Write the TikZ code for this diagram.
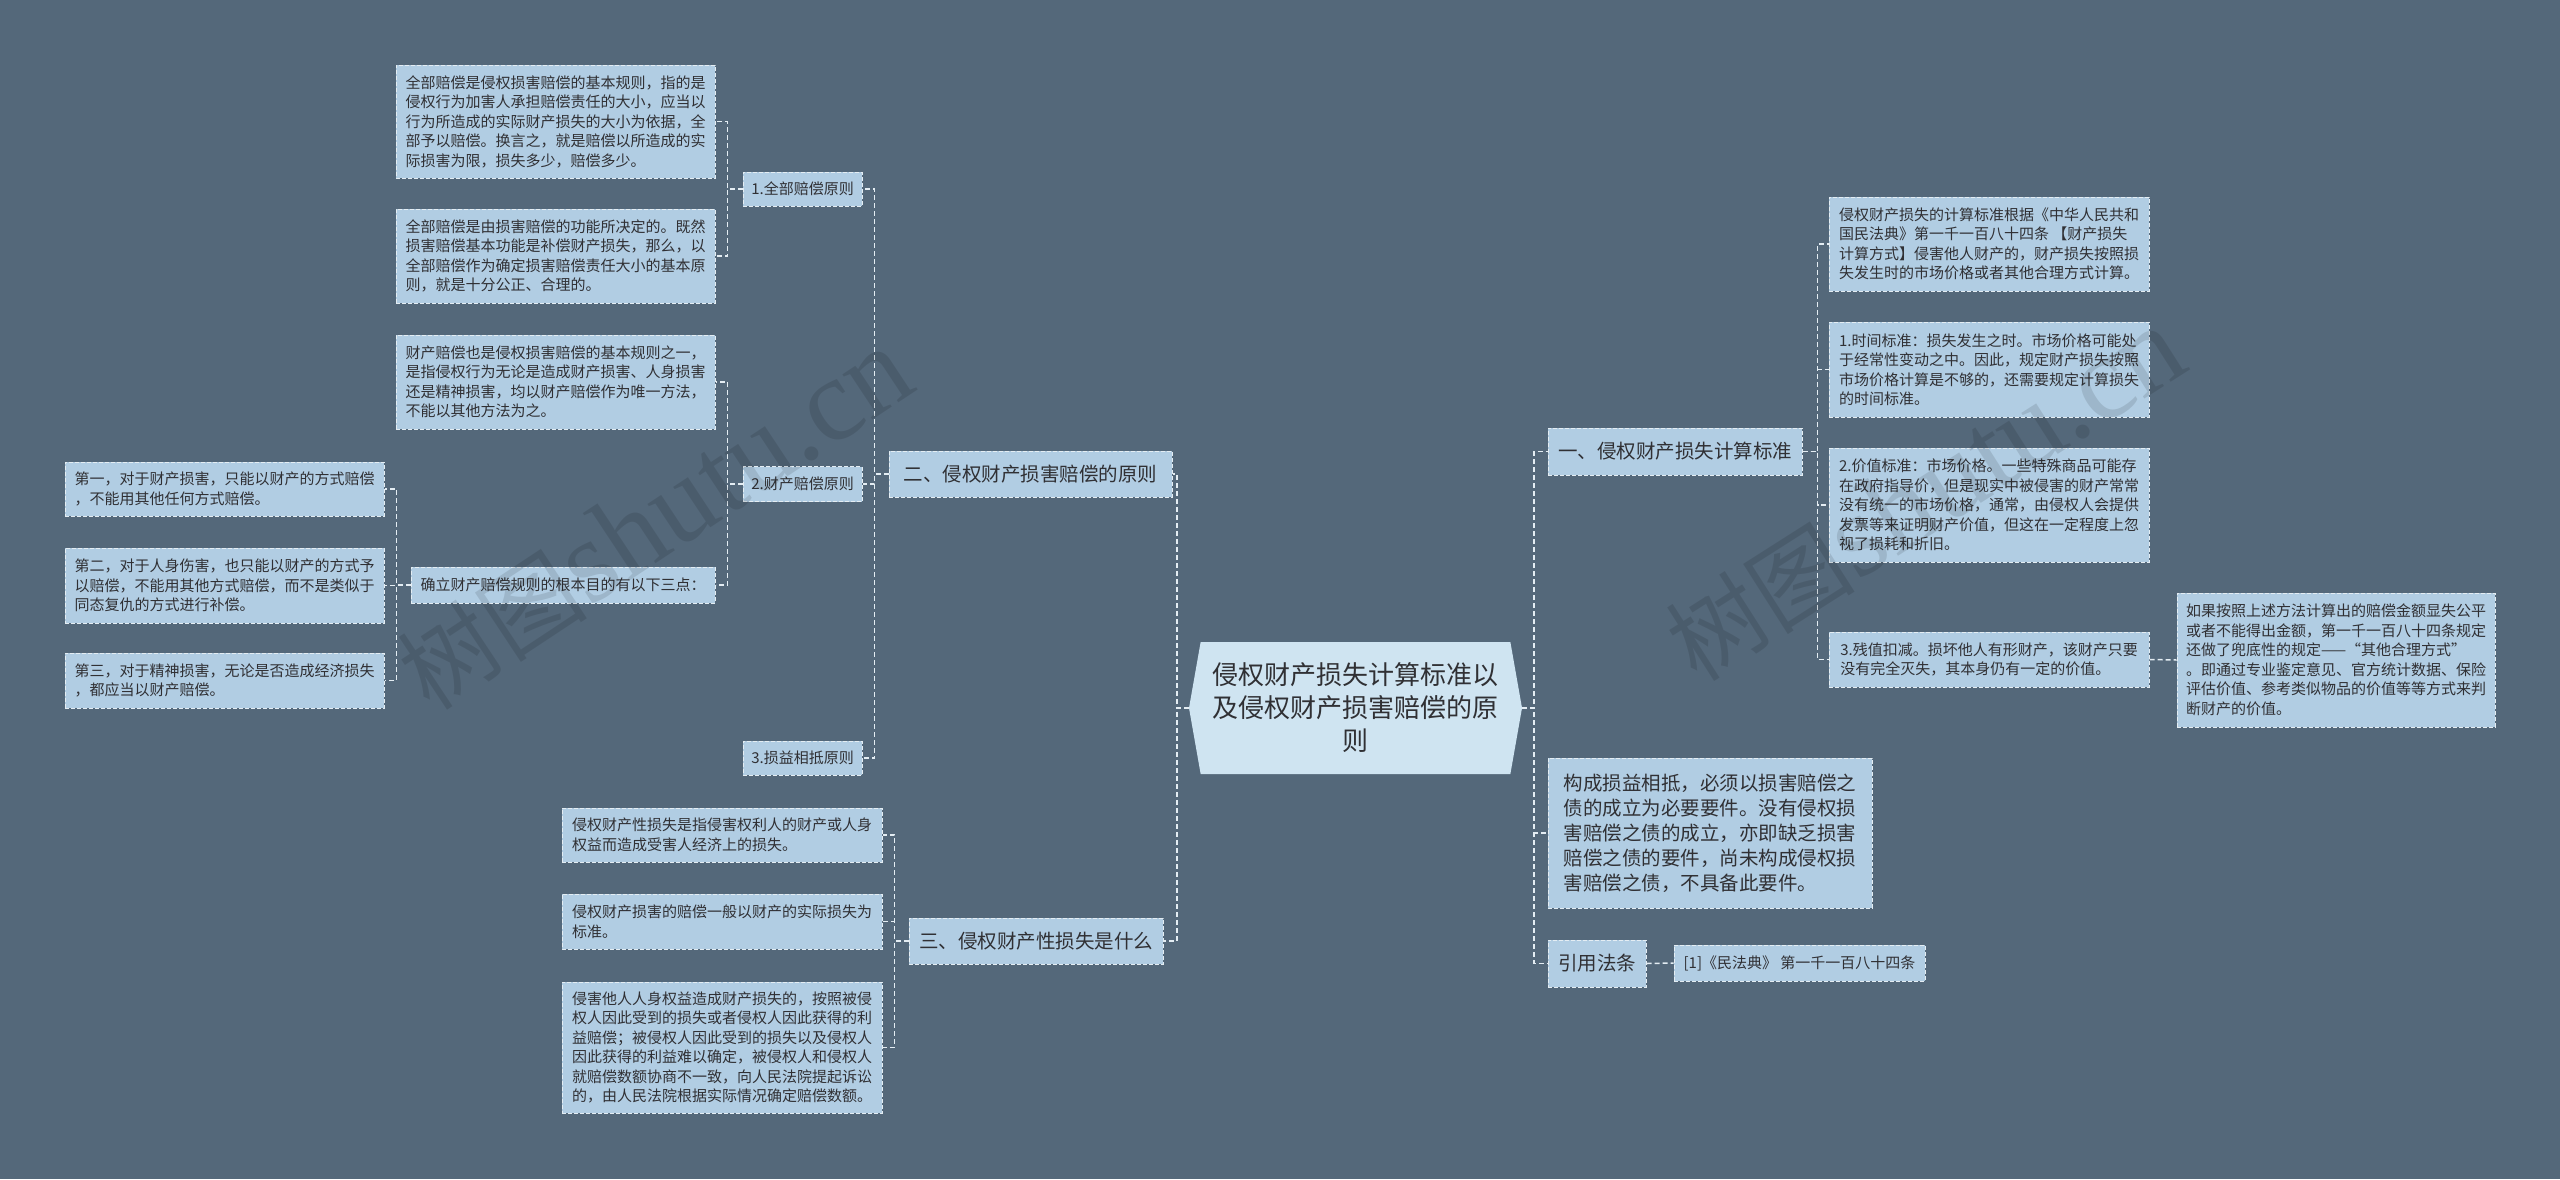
\documentclass[tikz,border=0pt]{standalone}
\usepackage{fontspec}
\setmainfont{Noto Sans CJK SC}
\newfontfamily\wmlatin{Liberation Serif}
\newfontfamily\wmcjk{Noto Sans CJK SC}
\usetikzlibrary{shapes.symbols}
\definecolor{bgc}{RGB}{84,104,122}
\definecolor{boxfill}{RGB}{177,205,227}
\definecolor{centerfill}{RGB}{207,228,241}
\definecolor{linec}{RGB}{228,237,243}
\definecolor{textc}{RGB}{48,48,52}
\tikzset{
  box/.style={draw=linec, line width=1pt, dash pattern=on 4pt off 2pt, fill=boxfill, text=textc,
    align=left, inner xsep=8pt, inner ysep=6pt, font=\fontsize{15}{19.5}\selectfont},
  smallbox/.style={box, align=center},
  midbox/.style={box, align=center, font=\fontsize{19.5}{25}\selectfont},
  bigtext/.style={box, font=\fontsize{19.5}{25}\selectfont},
  centerbox/.style={shape=signal, signal to=west and east, signal pointer angle=160,
    fill=centerfill, draw=none, align=center, text=textc,
    font=\fontsize{26}{33}\selectfont, minimum width=333pt, minimum height=132pt},
  conn/.style={draw=linec, line width=1.5pt, dash pattern=on 5pt off 3pt},
  wm/.style={text=black, opacity=0.11, font=\wmlatin\fontsize{118}{118}\selectfont, inner sep=0pt}
}
\begin{document}
\begin{tikzpicture}[x=1pt,y=-1pt]
\fill[bgc] (0,0) rectangle (2560,1179);
\useasboundingbox (0,0) rectangle (2560,1179);

% centre
\node[centerbox] (C) at (1355.5,708) {侵权财产损失计算标准以\\及侵权财产损害赔偿的原\\则};

% left branch two
\node[midbox, minimum width=283pt, minimum height=46pt] (L2) at (1030.5,474) {二、侵权财产损害赔偿的原则};
\node[smallbox, minimum width=119pt, minimum height=34pt] (N1) at (802.5,189) {1.全部赔偿原则};
\node[smallbox, minimum width=119pt, minimum height=35pt] (N2) at (802.5,484) {2.财产赔偿原则};
\node[smallbox, minimum width=119pt, minimum height=34pt] (N3) at (802.5,758) {3.损益相抵原则};

\node[box, minimum width=319pt, minimum height=113pt] (A1) at (555.5,121.5) {全部赔偿是侵权损害赔偿的基本规则，指的是\\侵权行为加害人承担赔偿责任的大小，应当以\\行为所造成的实际财产损失的大小为依据，全\\部予以赔偿。换言之，就是赔偿以所造成的实\\际损害为限，损失多少，赔偿多少。};
\node[box, minimum width=319pt, minimum height=94pt] (A2) at (555.5,256) {全部赔偿是由损害赔偿的功能所决定的。既然\\损害赔偿基本功能是补偿财产损失，那么，以\\全部赔偿作为确定损害赔偿责任大小的基本原\\则，就是十分公正、合理的。};
\node[box, minimum width=319pt, minimum height=94pt] (B1) at (555.5,382) {财产赔偿也是侵权损害赔偿的基本规则之一，\\是指侵权行为无论是造成财产损害、人身损害\\还是精神损害，均以财产赔偿作为唯一方法，\\不能以其他方法为之。};
\node[box, minimum width=304pt, minimum height=36pt] (B2) at (563,585) {确立财产赔偿规则的根本目的有以下三点：};

\node[box, minimum width=319pt, minimum height=54pt] (C1) at (224.5,489) {第一，对于财产损害，只能以财产的方式赔偿\\，不能用其他任何方式赔偿。};
\node[box, minimum width=319pt, minimum height=75pt] (C2) at (224.5,585.5) {第二，对于人身伤害，也只能以财产的方式予\\以赔偿，不能用其他方式赔偿，而不是类似于\\同态复仇的方式进行补偿。};
\node[box, minimum width=319pt, minimum height=55pt] (C3) at (224.5,680.5) {第三，对于精神损害，无论是否造成经济损失\\，都应当以财产赔偿。};

% left branch three
\node[midbox, minimum width=254pt, minimum height=46pt] (L3) at (1036,941) {三、侵权财产性损失是什么};
\node[box, minimum width=320pt, minimum height=54pt] (D1) at (722,835) {侵权财产性损失是指侵害权利人的财产或人身\\权益而造成受害人经济上的损失。};
\node[box, minimum width=320pt, minimum height=55pt] (D2) at (722,921.5) {侵权财产损害的赔偿一般以财产的实际损失为\\标准。};
\node[box, minimum width=320pt, minimum height=131pt] (D3) at (722,1047.5) {侵害他人人身权益造成财产损失的，按照被侵\\权人因此受到的损失或者侵权人因此获得的利\\益赔偿；被侵权人因此受到的损失以及侵权人\\因此获得的利益难以确定，被侵权人和侵权人\\就赔偿数额协商不一致，向人民法院提起诉讼\\的，由人民法院根据实际情况确定赔偿数额。};

% right branch one
\node[midbox, minimum width=254pt, minimum height=47pt] (L1) at (1675,451.5) {一、侵权财产损失计算标准};
\node[box, minimum width=320pt, minimum height=94pt] (E1) at (1989,244) {侵权财产损失的计算标准根据《中华人民共和\\国民法典》第一千一百八十四条 【财产损失\\计算方式】侵害他人财产的，财产损失按照损\\失发生时的市场价格或者其他合理方式计算。};
\node[box, minimum width=320pt, minimum height=95pt] (E2) at (1989,369.5) {1.时间标准：损失发生之时。市场价格可能处\\于经常性变动之中。因此，规定财产损失按照\\市场价格计算是不够的，还需要规定计算损失\\的时间标准。};
\node[box, minimum width=320pt, minimum height=114pt] (E3) at (1989,505) {2.价值标准：市场价格。一些特殊商品可能存\\在政府指导价，但是现实中被侵害的财产常常\\没有统一的市场价格，通常，由侵权人会提供\\发票等来证明财产价值，但这在一定程度上忽\\视了损耗和折旧。};
\node[box, minimum width=320pt, minimum height=55pt] (E4) at (1989,659.5) {3.残值扣减。损坏他人有形财产，该财产只要\\没有完全灭失，其本身仍有一定的价值。};
\node[box, minimum width=318pt, minimum height=134pt] (E5) at (2336,660) {如果按照上述方法计算出的赔偿金额显失公平\\或者不能得出金额，第一千一百八十四条规定\\还做了兜底性的规定——“其他合理方式”\\。即通过专业鉴定意见、官方统计数据、保险\\评估价值、参考类似物品的价值等等方式来判\\断财产的价值。};

% right others
\node[bigtext, minimum width=324pt, minimum height=150pt] (F1) at (1710,833) {构成损益相抵，必须以损害赔偿之\\债的成立为必要要件。没有侵权损\\害赔偿之债的成立，亦即缺乏损害\\赔偿之债的要件，尚未构成侵权损\\害赔偿之债，不具备此要件。};
\node[midbox, minimum width=98pt, minimum height=47pt] (G) at (1597,963.5) {引用法条};
\node[smallbox, minimum width=251pt, minimum height=36pt] (H) at (1799.5,963) {[1]《民法典》 第一千一百八十四条};

% connectors
\draw[conn] (C.west) -- ++(-12,0) |- (L2.east);
\draw[conn] (C.west) -- ++(-12,0) |- (L3.east);
\draw[conn] (C.east) -- ++(12,0) |- (L1.west);
\draw[conn] (C.east) -- ++(12,0) |- (F1.west);
\draw[conn] (C.east) -- ++(12,0) |- (G.west);

\draw[conn] (L2.west) -- ++(-14,0) |- (N1.east);
\draw[conn] (L2.west) -- ++(-14,0) |- (N2.east);
\draw[conn] (L2.west) -- ++(-14,0) |- (N3.east);

\draw[conn] (N1.west) -- ++(-15,0) |- (A1.east);
\draw[conn] (N1.west) -- ++(-15,0) |- (A2.east);
\draw[conn] (N2.west) -- ++(-15,0) |- (B1.east);
\draw[conn] (N2.west) -- ++(-15,0) |- (B2.east);

\draw[conn] (B2.west) -- ++(-14,0) |- (C1.east);
\draw[conn] (B2.west) -- ++(-14,0) |- (C2.east);
\draw[conn] (B2.west) -- ++(-14,0) |- (C3.east);

\draw[conn] (L3.west) -- ++(-14,0) |- (D1.east);
\draw[conn] (L3.west) -- ++(-14,0) |- (D2.east);
\draw[conn] (L3.west) -- ++(-14,0) |- (D3.east);

\draw[conn] (L1.east) -- ++(15,0) |- (E1.west);
\draw[conn] (L1.east) -- ++(15,0) |- (E2.west);
\draw[conn] (L1.east) -- ++(15,0) |- (E3.west);
\draw[conn] (L1.east) -- ++(15,0) |- (E4.west);
\draw[conn] (E4.east) -- (E5.west);
\draw[conn] (G.east) -- (H.west);

% watermarks
\node[wm, rotate=33.5] (wm1) at (655,520) {{\wmcjk\fontsize{95}{95}\selectfont 树图}shutu.cn};
\node[wm, rotate=32.5] (wm2) at (1925,495) {{\wmcjk\fontsize{95}{95}\selectfont 树图}shutu.cn};
\end{tikzpicture}
\end{document}
